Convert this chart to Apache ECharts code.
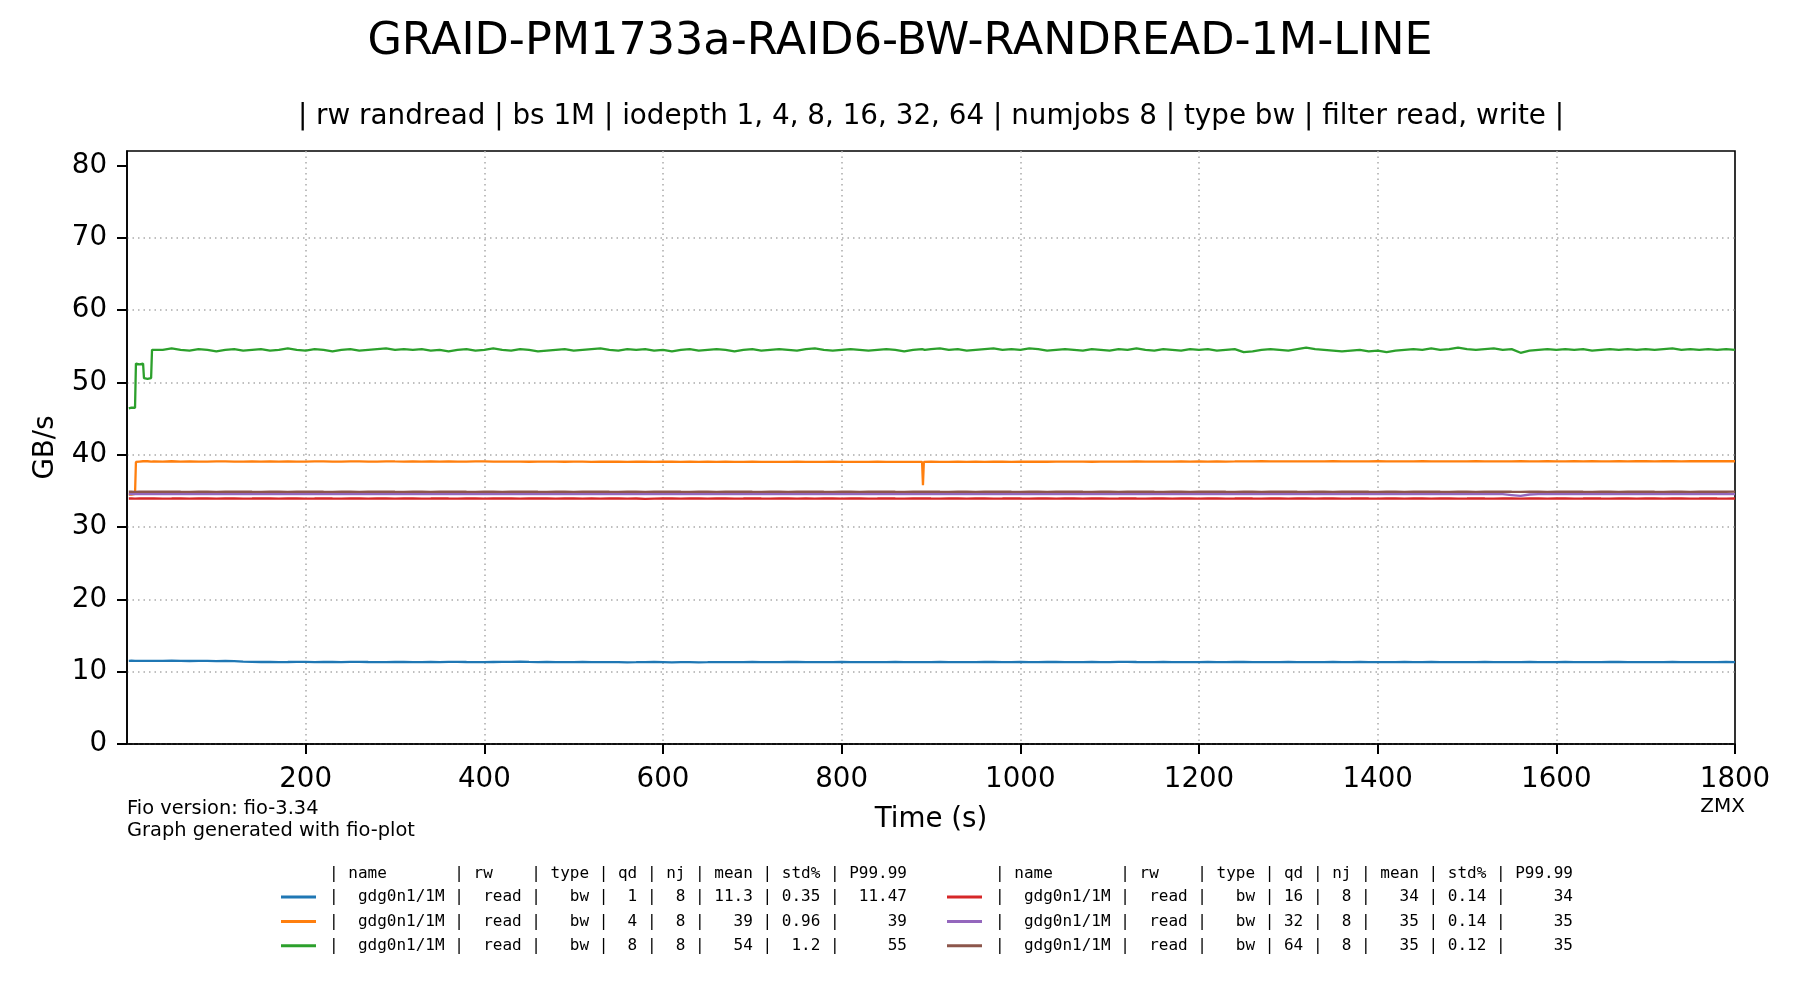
<!DOCTYPE html>
<html>
<head>
<meta charset="utf-8">
<title>GRAID-PM1733a-RAID6-BW-RANDREAD-1M-LINE</title>
<script src="https://cdn.jsdelivr.net/npm/echarts@6.0.0/dist/echarts.min.js"></script>
<style>
  html, body { margin: 0; padding: 0; background: #fff; }
  #main { width: 1800px; height: 1000px; }
</style>
</head>
<body>
<div id="main"></div>
<script>
// sample times (s)
var seconds = [
  2, 5, 9, 10, 14, 18, 19, 23, 27, 28,
  30, 40, 50, 60, 70, 80, 90, 100, 110, 120,
  130, 140, 150, 160, 170, 180, 190, 200, 210, 220,
  230, 240, 250, 260, 270, 280, 290, 300, 310, 320,
  330, 340, 350, 360, 370, 380, 390, 400, 410, 420,
  430, 440, 450, 460, 470, 480, 490, 500, 510, 520,
  530, 540, 550, 560, 570, 580, 590, 600, 610, 620,
  630, 640, 650, 660, 670, 680, 690, 700, 710, 720,
  730, 740, 750, 760, 770, 780, 790, 800, 810, 820,
  830, 840, 850, 860, 870, 880, 890,
  891, 892, 893,
  900, 910, 920, 930, 940, 950, 960, 970, 980, 990,
  1000, 1010, 1020, 1030, 1040, 1050, 1060, 1070, 1080, 1090,
  1100, 1110, 1120, 1130, 1140, 1150, 1160, 1170, 1180, 1190,
  1200, 1210, 1220, 1230, 1240, 1250, 1260, 1270, 1280, 1290,
  1300, 1310, 1320, 1330, 1340, 1350, 1360, 1370, 1380, 1390,
  1400, 1410, 1420, 1430, 1440, 1450, 1460, 1470, 1480, 1490,
  1500, 1510, 1520, 1530, 1540, 1550, 1560, 1570, 1580, 1590,
  1600, 1610, 1620, 1630, 1640, 1650, 1660, 1670, 1680, 1690,
  1700, 1710, 1720, 1730, 1740, 1750, 1760, 1770, 1780, 1790, 1800
];

// GB/s, iodepth 1
var bwQd1 = [
  11.50, 11.52, 11.50, 11.51, 11.49, 11.50, 11.52, 11.50, 11.49, 11.51,
  11.50, 11.49, 11.51, 11.50, 11.48, 11.50, 11.49, 11.47, 11.48, 11.46,
  11.40, 11.36, 11.34, 11.35, 11.33, 11.34, 11.36, 11.35, 11.33, 11.34,
  11.35, 11.33, 11.36, 11.37, 11.34, 11.32, 11.33, 11.35, 11.34, 11.33,
  11.32, 11.34, 11.33, 11.35, 11.36, 11.34, 11.33, 11.32, 11.34, 11.35,
  11.36, 11.38, 11.35, 11.33, 11.34, 11.32, 11.31, 11.33, 11.34, 11.32,
  11.31, 11.33, 11.32, 11.30, 11.31, 11.33, 11.34, 11.32, 11.30, 11.31,
  11.32, 11.30, 11.31, 11.33, 11.32, 11.31, 11.33, 11.34, 11.32, 11.31,
  11.33, 11.35, 11.34, 11.32, 11.33, 11.31, 11.32, 11.34, 11.33, 11.32,
  11.31, 11.33, 11.32, 11.34, 11.33, 11.31, 11.32,
  11.33, 11.32, 11.33,
  11.32, 11.34, 11.33, 11.31, 11.32, 11.33, 11.35, 11.34, 11.32, 11.33,
  11.34, 11.32, 11.33, 11.35, 11.34, 11.32, 11.31, 11.33, 11.34, 11.32,
  11.33, 11.35, 11.37, 11.34, 11.32, 11.33, 11.34, 11.32, 11.33, 11.31,
  11.32, 11.34, 11.33, 11.32, 11.34, 11.35, 11.33, 11.32, 11.31, 11.33,
  11.34, 11.32, 11.33, 11.31, 11.32, 11.34, 11.33, 11.32, 11.34, 11.33,
  11.32, 11.31, 11.33, 11.34, 11.32, 11.33, 11.35, 11.33, 11.32, 11.31,
  11.33, 11.32, 11.34, 11.33, 11.31, 11.32, 11.33, 11.34, 11.32, 11.33,
  11.32, 11.34, 11.33, 11.31, 11.33, 11.32, 11.34, 11.35, 11.33, 11.32,
  11.31, 11.33, 11.32, 11.34, 11.33, 11.32, 11.31, 11.33, 11.32, 11.34, 11.33
];

// iodepth 4
var bwQd4 = [
  34.50, 34.50, 34.60, 39.00, 39.05, 39.10, 39.05, 39.10, 39.05, 39.10,
  39.08, 39.05, 39.10, 39.06, 39.08, 39.04, 39.06, 39.09, 39.07, 39.05,
  39.06, 39.08, 39.05, 39.09, 39.06, 39.07, 39.05, 39.06, 39.09, 39.08,
  39.06, 39.05, 39.08, 39.07, 39.05, 39.06, 39.09, 39.07, 39.06, 39.08,
  39.05, 39.07, 39.06, 39.08, 39.05, 39.06, 39.09, 39.07, 39.05, 39.06,
  39.04, 39.06, 39.03, 39.05, 39.04, 39.06, 39.03, 39.05, 39.04, 39.02,
  39.04, 39.03, 39.05, 39.02, 39.04, 39.03, 39.01, 39.03, 39.04, 39.02,
  39.03, 39.01, 39.03, 39.02, 39.04, 39.02, 39.01, 39.03, 39.02, 39.00,
  39.02, 39.01, 39.03, 39.00, 39.02, 39.01, 39.03, 39.02, 39.00, 39.02,
  39.01, 39.03, 39.02, 39.00, 39.02, 39.01, 39.02,
  35.80, 39.00, 39.02,
  39.03, 39.01, 39.02, 39.04, 39.02, 39.03, 39.01, 39.03, 39.04, 39.02,
  39.04, 39.03, 39.05, 39.03, 39.04, 39.06, 39.04, 39.05, 39.03, 39.05,
  39.06, 39.04, 39.05, 39.07, 39.05, 39.06, 39.04, 39.06, 39.07, 39.05,
  39.07, 39.06, 39.08, 39.06, 39.07, 39.09, 39.07, 39.10, 39.08, 39.07,
  39.09, 39.08, 39.07, 39.09, 39.08, 39.10, 39.08, 39.07, 39.09, 39.08,
  39.10, 39.08, 39.09, 39.07, 39.09, 39.10, 39.08, 39.09, 39.07, 39.09,
  39.08, 39.10, 39.09, 39.07, 39.09, 39.08, 39.10, 39.09, 39.08, 39.10,
  39.09, 39.08, 39.10, 39.09, 39.11, 39.09, 39.08, 39.10, 39.09, 39.11,
  39.10, 39.09, 39.11, 39.10, 39.09, 39.11, 39.10, 39.12, 39.10, 39.11, 39.10
];

// iodepth 8
var bwQd8 = [
  46.40, 46.50, 46.50, 52.60, 52.50, 52.60, 50.60, 50.50, 50.60, 54.50,
  54.60, 54.50, 54.70, 54.50, 54.40, 54.60, 54.50, 54.30, 54.50, 54.60,
  54.40, 54.50, 54.60, 54.40, 54.50, 54.70, 54.50, 54.40, 54.60, 54.50,
  54.30, 54.50, 54.60, 54.40, 54.50, 54.60, 54.70, 54.50, 54.60, 54.50,
  54.60, 54.40, 54.50, 54.30, 54.50, 54.60, 54.40, 54.50, 54.70, 54.50,
  54.40, 54.60, 54.50, 54.30, 54.40, 54.50, 54.60, 54.40, 54.50, 54.60,
  54.70, 54.50, 54.40, 54.60, 54.50, 54.60, 54.40, 54.50, 54.30, 54.50,
  54.60, 54.40, 54.50, 54.60, 54.50, 54.30, 54.50, 54.60, 54.40, 54.50,
  54.60, 54.50, 54.40, 54.60, 54.70, 54.50, 54.40, 54.50, 54.60, 54.50,
  54.40, 54.50, 54.60, 54.50, 54.30, 54.50, 54.60,
  54.50, 54.40, 54.50,
  54.60, 54.70, 54.50, 54.60, 54.40, 54.50, 54.60, 54.70, 54.50, 54.60,
  54.50, 54.70, 54.60, 54.40, 54.50, 54.60, 54.50, 54.40, 54.60, 54.50,
  54.40, 54.60, 54.50, 54.70, 54.50, 54.40, 54.60, 54.50, 54.40, 54.60,
  54.50, 54.60, 54.40, 54.50, 54.60, 54.20, 54.30, 54.50, 54.60, 54.50,
  54.40, 54.60, 54.80, 54.60, 54.50, 54.40, 54.30, 54.40, 54.50, 54.30,
  54.40, 54.20, 54.40, 54.50, 54.60, 54.50, 54.70, 54.50, 54.60, 54.80,
  54.60, 54.50, 54.60, 54.70, 54.50, 54.60, 54.10, 54.40, 54.50, 54.60,
  54.50, 54.60, 54.50, 54.60, 54.40, 54.50, 54.60, 54.50, 54.60, 54.50,
  54.60, 54.50, 54.60, 54.70, 54.50, 54.60, 54.50, 54.60, 54.50, 54.60, 54.50
];

// iodepth 16
var bwQd16 = [
  33.95, 33.96, 33.94, 33.95, 33.97, 33.95, 33.94, 33.96, 33.95, 33.94,
  33.96, 33.94, 33.95, 33.97, 33.94, 33.96, 33.95, 33.93, 33.95, 33.96,
  33.94, 33.95, 33.97, 33.95, 33.93, 33.95, 33.96, 33.94, 33.95, 33.97,
  33.95, 33.94, 33.96, 33.95, 33.93, 33.95, 33.96, 33.94, 33.95, 33.96,
  33.94, 33.95, 33.97, 33.95, 33.94, 33.96, 33.95, 33.93, 33.95, 33.96,
  33.95, 33.94, 33.96, 33.95, 33.97, 33.94, 33.95, 33.96, 33.94, 33.95,
  33.93, 33.95, 33.96, 33.94, 33.95, 33.90, 33.94, 33.96, 33.95, 33.94,
  33.96, 33.95, 33.93, 33.95, 33.96, 33.94, 33.95, 33.97, 33.95, 33.94,
  33.95, 33.96, 33.94, 33.95, 33.93, 33.95, 33.96, 33.94, 33.95, 33.96,
  33.94, 33.95, 33.97, 33.95, 33.94, 33.96, 33.95,
  33.94, 33.95, 33.96,
  33.95, 33.94, 33.96, 33.95, 33.93, 33.95, 33.96, 33.94, 33.95, 33.97,
  33.95, 33.94, 33.96, 33.95, 33.94, 33.96, 33.95, 33.93, 33.95, 33.96,
  33.94, 33.95, 33.97, 33.95, 33.94, 33.96, 33.95, 33.94, 33.96, 33.95,
  33.93, 33.95, 33.96, 33.94, 33.95, 33.97, 33.95, 33.94, 33.96, 33.95,
  33.94, 33.96, 33.95, 33.93, 33.95, 33.96, 33.94, 33.95, 33.97, 33.95,
  33.94, 33.96, 33.95, 33.94, 33.96, 33.95, 33.93, 33.95, 33.96, 33.94,
  33.95, 33.97, 33.95, 33.94, 33.96, 33.95, 33.93, 33.95, 33.96, 33.94,
  33.95, 33.96, 33.94, 33.95, 33.97, 33.95, 33.94, 33.96, 33.95, 33.94,
  33.96, 33.95, 33.93, 33.95, 33.96, 33.94, 33.95, 33.97, 33.95, 33.94, 33.95
];

// iodepth 32
var bwQd32 = [
  34.55, 34.56, 34.54, 34.55, 34.57, 34.55, 34.54, 34.56, 34.55, 34.54,
  34.56, 34.55, 34.54, 34.56, 34.55, 34.57, 34.55, 34.54, 34.56, 34.55,
  34.54, 34.56, 34.55, 34.57, 34.55, 34.54, 34.56, 34.55, 34.54, 34.56,
  34.55, 34.57, 34.55, 34.54, 34.56, 34.55, 34.54, 34.56, 34.55, 34.57,
  34.55, 34.54, 34.56, 34.55, 34.54, 34.56, 34.55, 34.57, 34.55, 34.54,
  34.56, 34.55, 34.54, 34.56, 34.55, 34.57, 34.55, 34.54, 34.56, 34.55,
  34.54, 34.56, 34.55, 34.57, 34.55, 34.54, 34.56, 34.55, 34.54, 34.56,
  34.55, 34.57, 34.55, 34.54, 34.56, 34.55, 34.54, 34.56, 34.55, 34.57,
  34.55, 34.54, 34.56, 34.55, 34.54, 34.56, 34.55, 34.57, 34.55, 34.54,
  34.56, 34.55, 34.54, 34.56, 34.55, 34.57, 34.55,
  34.54, 34.56, 34.55,
  34.54, 34.56, 34.55, 34.57, 34.55, 34.54, 34.56, 34.55, 34.54, 34.56,
  34.55, 34.57, 34.55, 34.54, 34.56, 34.55, 34.54, 34.56, 34.55, 34.57,
  34.55, 34.54, 34.56, 34.55, 34.54, 34.56, 34.55, 34.57, 34.55, 34.54,
  34.56, 34.55, 34.54, 34.56, 34.55, 34.57, 34.55, 34.54, 34.56, 34.55,
  34.54, 34.56, 34.55, 34.57, 34.55, 34.54, 34.56, 34.55, 34.54, 34.56,
  34.55, 34.57, 34.55, 34.54, 34.56, 34.55, 34.54, 34.56, 34.55, 34.57,
  34.55, 34.54, 34.56, 34.55, 34.54, 34.42, 34.30, 34.50, 34.55, 34.54,
  34.56, 34.55, 34.54, 34.56, 34.55, 34.57, 34.55, 34.54, 34.56, 34.55,
  34.54, 34.56, 34.55, 34.57, 34.55, 34.54, 34.56, 34.55, 34.54, 34.56, 34.55
];

// iodepth 64
var bwQd64 = [
  34.88, 34.89, 34.87, 34.88, 34.90, 34.88, 34.87, 34.89, 34.88, 34.87,
  34.89, 34.88, 34.90, 34.88, 34.87, 34.89, 34.88, 34.87, 34.89, 34.88,
  34.90, 34.88, 34.87, 34.89, 34.88, 34.87, 34.89, 34.88, 34.90, 34.88,
  34.87, 34.89, 34.88, 34.87, 34.89, 34.88, 34.90, 34.88, 34.87, 34.89,
  34.88, 34.87, 34.89, 34.88, 34.90, 34.88, 34.87, 34.89, 34.88, 34.87,
  34.89, 34.88, 34.90, 34.88, 34.87, 34.89, 34.88, 34.87, 34.89, 34.88,
  34.90, 34.88, 34.87, 34.89, 34.88, 34.87, 34.89, 34.88, 34.90, 34.88,
  34.87, 34.89, 34.88, 34.87, 34.89, 34.88, 34.90, 34.88, 34.87, 34.89,
  34.88, 34.87, 34.89, 34.88, 34.90, 34.88, 34.87, 34.89, 34.88, 34.87,
  34.89, 34.88, 34.90, 34.88, 34.87, 34.89, 34.88,
  34.87, 34.89, 34.88,
  34.90, 34.88, 34.87, 34.89, 34.88, 34.87, 34.89, 34.88, 34.90, 34.88,
  34.87, 34.89, 34.88, 34.87, 34.89, 34.88, 34.90, 34.88, 34.87, 34.89,
  34.88, 34.87, 34.89, 34.88, 34.90, 34.88, 34.87, 34.89, 34.88, 34.87,
  34.89, 34.88, 34.90, 34.88, 34.87, 34.89, 34.88, 34.87, 34.89, 34.88,
  34.90, 34.88, 34.87, 34.89, 34.88, 34.87, 34.89, 34.88, 34.90, 34.88,
  34.87, 34.89, 34.88, 34.87, 34.89, 34.88, 34.90, 34.88, 34.87, 34.89,
  34.88, 34.87, 34.89, 34.88, 34.90, 34.88, 34.87, 34.89, 34.88, 34.87,
  34.89, 34.88, 34.90, 34.88, 34.87, 34.89, 34.88, 34.87, 34.89, 34.88,
  34.90, 34.88, 34.87, 34.89, 34.88, 34.87, 34.89, 34.88, 34.90, 34.88, 34.89
];

// legend table columns
var seriesKeys = ['qd1', 'qd4', 'qd8', 'qd16', 'qd32', 'qd64'];
var jobName = 'gdg0n1/1M';
var qdList = [1, 4, 8, 16, 32, 64];
var njList = [8, 8, 8, 8, 8, 8];
var meanList = ['11.3', '39', '54', '34', '35', '35'];
var stdList = ['0.35', '0.96', '1.2', '0.14', '0.14', '0.12'];
var p9999List = ['11.47', '39', '55', '34', '35', '35'];
var tableHeader = '| name       | rw    | type | qd | nj | mean | std% | P99.99';

var xTicks = [200, 400, 600, 800, 1000, 1200, 1400, 1600, 1800];
var yTicks = [0, 10, 20, 30, 40, 50, 60, 70, 80];

var colors = ['#1f77b4', '#ff7f0e', '#2ca02c', '#d62728', '#9467bd', '#8c564b'];
var allValues = [bwQd1, bwQd4, bwQd8, bwQd16, bwQd32, bwQd64];

function pad(s, n) {
  s = String(s);
  while (s.length < n) s = ' ' + s;
  return s;
}

function legendRow(i) {
  return '|  ' + jobName + ' |  read |   bw | ' + pad(qdList[i], 2) + ' | ' + pad(njList[i], 2) +
    ' | ' + pad(meanList[i], 4) + ' | ' + pad(stdList[i], 4) + ' | ' + pad(p9999List[i], 6);
}

function toPairs(values) {
  var out = [];
  for (var i = 0; i < seconds.length; i++) {
    out.push([seconds[i], values[i]]);
  }
  return out;
}

var myChart = echarts.init(document.getElementById('main'), null, { renderer: 'canvas' });

var font = 'DejaVu Sans';
var mono = 'DejaVu Sans Mono';
var monoSize = 16;

var series = [];
for (var i = 0; i < seriesKeys.length; i++) {
  series.push({
    name: seriesKeys[i],
    type: 'line',
    data: toPairs(allValues[i]),
    showSymbol: false,
    lineStyle: { width: 2.3, color: colors[i] },
    itemStyle: { color: colors[i] },
    emphasis: { disabled: true }
  });
}

var legendBase = {
  orient: 'vertical',
  top: 889,
  padding: 0,
  itemGap: 8.4,
  itemWidth: 35,
  itemHeight: 3,
  icon: 'rect',
  selectedMode: false,
  formatter: function (name) {
    return legendRow(seriesKeys.indexOf(name));
  },
  textStyle: {
    fontFamily: mono,
    fontSize: monoSize,
    lineHeight: 16,
    color: '#000',
    padding: [0, 0, 0, 8]
  }
};

var option = {
  animation: false,
  color: colors,
  backgroundColor: '#fff',
  title: {
    text: 'GRAID-PM1733a-RAID6-BW-RANDREAD-1M-LINE',
    left: 'center',
    top: 20,
    padding: 0,
    textStyle: { fontFamily: font, fontSize: 44.5, fontWeight: 'normal', color: '#000' }
  },
  legend: [
    Object.assign({}, legendBase, { left: 281, data: seriesKeys.slice(0, 3) }),
    Object.assign({}, legendBase, { left: 947, data: seriesKeys.slice(3) })
  ],
  grid: {
    left: 127, right: 65, top: 151, bottom: 256,
    show: true, borderColor: '#000', borderWidth: 1.6,
    outerBoundsMode: 'none'
  },
  xAxis: {
    type: 'value',
    min: 0,
    max: 1800,
    interval: 200,
    name: 'Time (s)',
    nameLocation: 'middle',
    nameGap: 62,
    nameTextStyle: { fontFamily: font, fontSize: 27.7, color: '#000' },
    axisLine: { lineStyle: { color: '#000', width: 1.6 } },
    axisTick: { length: 10, lineStyle: { color: '#000', width: 2 }, customValues: xTicks },
    axisLabel: {
      margin: 22,
      fontFamily: font, fontSize: 27.7, color: '#000',
      formatter: function (v) { return xTicks.indexOf(v) >= 0 ? String(v) : ''; }
    },
    splitLine: { show: true, showMaxLine: false, lineStyle: { color: '#aaaaaa', width: 1.5, type: [1.5, 4] } }
  },
  yAxis: {
    type: 'value',
    min: 0,
    max: 82,
    interval: 10,
    name: 'GB/s',
    nameLocation: 'middle',
    nameGap: 67,
    nameTextStyle: { fontFamily: font, fontSize: 27.7, color: '#000' },
    axisLine: { show: true, lineStyle: { color: '#000', width: 1.6 } },
    axisTick: { show: true, length: 10, lineStyle: { color: '#000', width: 2 }, customValues: yTicks },
    axisLabel: {
      margin: 20,
      fontFamily: font, fontSize: 27.7, color: '#000',
      formatter: function (v) { return yTicks.indexOf(v) >= 0 ? String(v) : ''; }
    },
    splitLine: { show: true, showMaxLine: false, lineStyle: { color: '#aaaaaa', width: 1.5, type: [1.5, 4] } }
  },
  graphic: [
    {
      type: 'text', x: 931, y: 117, silent: true,
      style: {
        text: '| rw randread | bs 1M | iodepth 1, 4, 8, 16, 32, 64 | numjobs 8 | type bw | filter read, write |',
        fontFamily: font, fontSize: 27.8, fill: '#000', textAlign: 'center', textVerticalAlign: 'middle'
      }
    },
    {
      type: 'text', x: 127, y: 809, silent: true,
      style: { text: 'Fio version: fio-3.34', fontFamily: font, fontSize: 19.4, fill: '#000', textVerticalAlign: 'middle' }
    },
    {
      type: 'text', x: 127, y: 831, silent: true,
      style: { text: 'Graph generated with fio-plot', fontFamily: font, fontSize: 19.4, fill: '#000', textVerticalAlign: 'middle' }
    },
    {
      type: 'text', x: 1745, y: 807, silent: true,
      style: { text: 'ZMX', fontFamily: font, fontSize: 20, fill: '#000', textAlign: 'right', textVerticalAlign: 'middle' }
    },
    {
      type: 'text', x: 329, y: 874, silent: true,
      style: { text: tableHeader, fontFamily: mono, fontSize: monoSize, fill: '#000', textVerticalAlign: 'middle' }
    },
    {
      type: 'text', x: 995, y: 874, silent: true,
      style: { text: tableHeader, fontFamily: mono, fontSize: monoSize, fill: '#000', textVerticalAlign: 'middle' }
    }
  ],
  series: series
};

myChart.setOption(option);
</script>
</body>
</html>
